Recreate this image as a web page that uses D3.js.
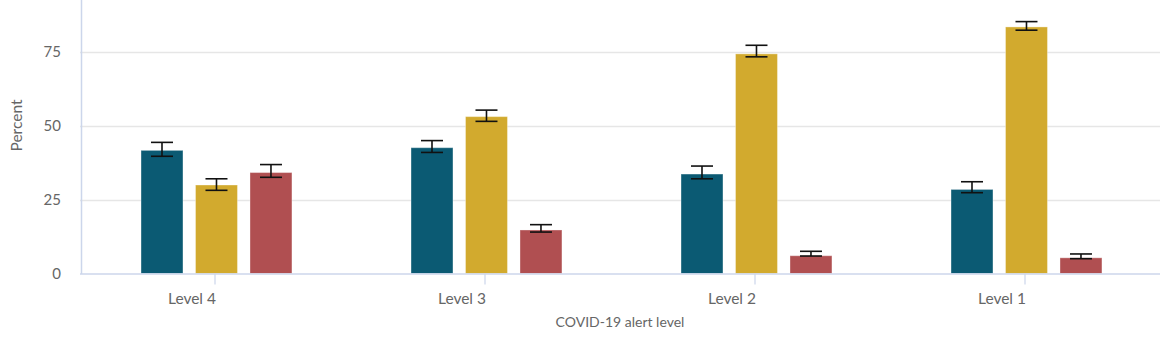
<!DOCTYPE html>
<html><head><meta charset="utf-8">
<script src="https://cdn.jsdelivr.net/npm/d3@7"></script>
<style>
html,body{margin:0;padding:0;background:#fff;}
svg{display:block;font-family:Lato, "Open Sans", sans-serif;}
</style></head>
<body><svg id="c" width="1170" height="350"></svg>
<script>
const categories = ["Level 4", "Level 3", "Level 2", "Level 1"];
const seriesNames = ["Series 1", "Series 2", "Series 3"];
const seriesColors = ["#0b5a73", "#d2aa2e", "#b04f51"];
const series1 = [41.6, 42.5, 33.6, 28.4];
const series2 = [29.9, 53.0, 74.2, 83.3];
const series3 = [34.1, 14.7, 6.0, 5.3];
const series1Low = [39.6, 40.9, 32.0, 27.3];
const series1High = [44.3, 44.9, 36.3, 31.0];
const series2Low = [28.1, 51.4, 73.2, 82.2];
const series2High = [32.0, 55.2, 77.1, 85.1];
const series3Low = [32.5, 14.0, 5.9, 5.0];
const series3High = [36.8, 16.5, 7.5, 6.6];
const yTicks = [0, 25, 50, 75];
const yTitle = "Percent";
const xTitle = "COVID-19 alert level";

const values = [series1, series2, series3];
const lows = [series1Low, series2Low, series3Low];
const highs = [series1High, series2High, series3High];

const svg = d3.select("#c");
const mLeft = 80, mRight = 1160, mBottom = 273.5, mTop = -22.5;

const x0 = d3.scaleBand().domain(categories).range([mLeft, mRight]).padding(0);
const bw = x0.bandwidth();
const x1 = d3.scaleBand().domain(seriesNames).range([bw * 0.226, bw * 0.785]).paddingInner(0.23).paddingOuter(0);
const y = d3.scaleLinear().domain([0, 100]).range([mBottom, mTop]);

// gridlines
svg.append("g").selectAll("line").data(yTicks.filter(d => d > 0)).join("line")
  .attr("x1", mLeft).attr("x2", mRight)
  .attr("y1", d => Math.round(y(d)) + 0.5).attr("y2", d => Math.round(y(d)) + 0.5)
  .attr("stroke", "#e6e6e6").attr("stroke-width", 1.5);

// y axis
const yAxis = svg.append("g").attr("transform", `translate(${mLeft + 1},0)`)
  .call(d3.axisLeft(y).tickValues(yTicks).tickSize(0).tickPadding(20));
yAxis.select(".domain").attr("stroke", "#ccd6eb").attr("stroke-width", 1.5);
yAxis.selectAll("text").attr("fill", "#666").style("font-size", "15px").style("font-family", "Lato, sans-serif");

svg.append("text").attr("transform", `translate(22,${(mTop + mBottom) / 2}) rotate(-90)`)
  .attr("text-anchor", "middle").attr("fill", "#666").style("font-size", "15.5px")
  .text(yTitle);

// bars
const groups = svg.append("g").selectAll("g").data(categories).join("g")
  .attr("transform", d => `translate(${x0(d)},0)`);

seriesNames.forEach((s, si) => {
  groups.append("rect")
    .attr("x", x1(s))
    .attr("width", x1.bandwidth())
    .attr("y", (d, i) => y(values[si][i]))
    .attr("height", (d, i) => mBottom - y(values[si][i]))
    .attr("fill", seriesColors[si])
    .attr("stroke", "#ffffff").attr("stroke-opacity", 0.35).attr("stroke-width", 1);
});

// x axis
const xAxis = svg.append("g").attr("transform", `translate(0,${mBottom})`)
  .call(d3.axisBottom(x0).tickSize(11).tickPadding(6));
xAxis.select(".domain").attr("stroke", "#ccd6eb").attr("stroke-width", 1.5).attr("d", `M${mLeft},0.5H${mRight}`);
xAxis.selectAll(".tick line").attr("stroke", "#ccd6eb").attr("stroke-width", 1.2);
xAxis.selectAll(".tick text").attr("fill", "#666").style("font-size", "15.5px")
  .style("font-family", "Lato, sans-serif").attr("text-anchor", "end").attr("x", 1).attr("dy", "0.85em");

svg.append("text").attr("x", (mLeft + mRight) / 2).attr("y", 327)
  .attr("text-anchor", "middle").attr("fill", "#666").style("font-size", "14px")
  .text(xTitle);

// error bars
const cap = 22;
seriesNames.forEach((s, si) => {
  const g = groups.append("g").attr("stroke", "#111").attr("stroke-width", 1.6).attr("fill", "none");
  const cx = x1(s) + x1.bandwidth() / 2;
  g.append("line").attr("x1", cx).attr("x2", cx)
    .attr("y1", (d, i) => y(highs[si][i])).attr("y2", (d, i) => y(lows[si][i]));
  g.append("line").attr("x1", cx - cap / 2).attr("x2", cx + cap / 2)
    .attr("y1", (d, i) => y(highs[si][i])).attr("y2", (d, i) => y(highs[si][i]));
  g.append("line").attr("x1", cx - cap / 2).attr("x2", cx + cap / 2)
    .attr("y1", (d, i) => y(lows[si][i])).attr("y2", (d, i) => y(lows[si][i]));
});
</script></body></html>
